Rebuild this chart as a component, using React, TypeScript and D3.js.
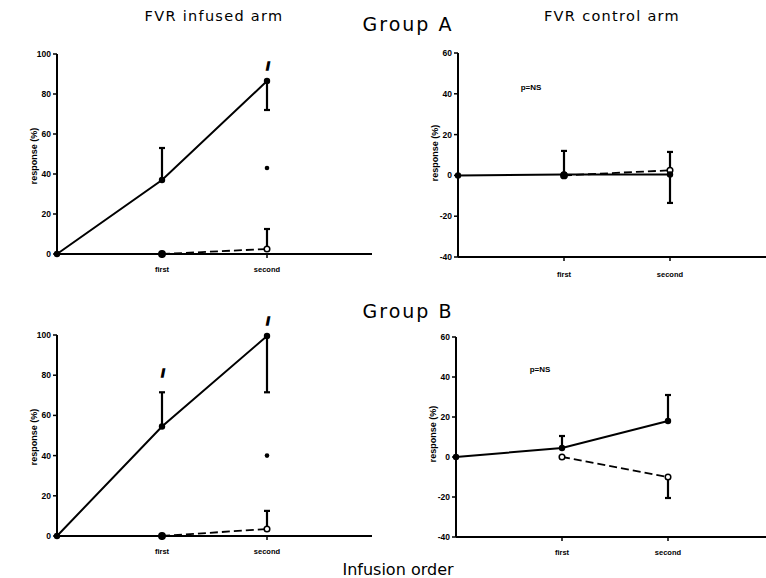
import React from "react";
import * as d3 from "d3";

// ---- data ----
const categories = ["", "first", "second"];

// Group A, infused arm
const aInfSolid = [0, 37, 86.5];
const aInfSolidErr = [null, 53, 72];
const aInfDashed = [null, 0, 2.5];
const aInfDashedErr = [null, null, 12.5];
const aInfDot = [null, null, 43];
const aInfMark = [null, null, 94];

// Group A, control arm
const aCtlSolid = [0, 0.5, 0.5];
const aCtlSolidErr = [null, 12, -13.5];
const aCtlDashed = [null, 0, 2.5];
const aCtlDashedErr = [null, null, 11.5];

// Group B, infused arm
const bInfSolid = [0, 54.5, 99.5];
const bInfSolidErr = [null, 71.5, 71.5];
const bInfDashed = [null, 0, 3.5];
const bInfDashedErr = [null, null, 12.5];
const bInfDot = [null, null, 40];
const bInfMark = [null, 81, 107];

// Group B, control arm
const bCtlSolid = [0, 4.5, 18];
const bCtlSolidErr = [null, 10.5, 31];
const bCtlDashed = [null, 0, -10];
const bCtlDashedErr = [null, null, -20.5];

const infusedTicks = [0, 20, 40, 60, 80, 100];
const controlTicks = [-40, -20, 0, 20, 40, 60];

type Panel = {
  x0: number; x1: number; yTop: number; yBot: number;
  domain: [number, number]; ticks: number[];
  solid: (number | null)[]; solidErr: (number | null)[];
  dashed: (number | null)[]; dashedErr: (number | null)[];
  dot?: (number | null)[]; mark?: (number | null)[];
  dashedFirstFilled: boolean;
  labelY: number; note?: [number, number];
  catLabelOffset: number;
};

const panels: Panel[] = [
  { x0: 57, x1: 372, yTop: 54, yBot: 254, domain: [0, 100], ticks: infusedTicks,
    solid: aInfSolid, solidErr: aInfSolidErr, dashed: aInfDashed, dashedErr: aInfDashedErr,
    dot: aInfDot, mark: aInfMark, dashedFirstFilled: true, labelY: 156, catLabelOffset: 15 },
  { x0: 458, x1: 776, yTop: 53, yBot: 257, domain: [-40, 60], ticks: controlTicks,
    solid: aCtlSolid, solidErr: aCtlSolidErr, dashed: aCtlDashed, dashedErr: aCtlDashedErr,
    dashedFirstFilled: true, labelY: 153, note: [531, 90], catLabelOffset: 17 },
  { x0: 57, x1: 372, yTop: 335, yBot: 536, domain: [0, 100], ticks: infusedTicks,
    solid: bInfSolid, solidErr: bInfSolidErr, dashed: bInfDashed, dashedErr: bInfDashedErr,
    dot: bInfDot, mark: bInfMark, dashedFirstFilled: true, labelY: 437, catLabelOffset: 15 },
  { x0: 456, x1: 774, yTop: 337, yBot: 537, domain: [-40, 60], ticks: controlTicks,
    solid: bCtlSolid, solidErr: bCtlSolidErr, dashed: bCtlDashed, dashedErr: bCtlDashedErr,
    dashedFirstFilled: false, labelY: 434, note: [540, 372], catLabelOffset: 15 },
];

const tickFont = "'Liberation Sans', Arial, sans-serif";

function PanelView({ p }: { p: Panel }) {
  const x = d3.scaleLinear().domain([0, 3]).range([p.x0, p.x1]);
  const y = d3.scaleLinear().domain(p.domain).range([p.yBot, p.yTop]);
  const idx = categories.map((_, i) => i);
  const mkPath = (vals: (number | null)[]) =>
    d3.line<[number, number]>().x((d) => x(d[0])).y((d) => y(d[1]))(
      idx.filter((i) => vals[i] != null).map((i) => [i, vals[i] as number])
    ) || "";
  const errBar = (vals: (number | null)[], errs: (number | null)[], key: string) =>
    idx.filter((i) => errs[i] != null && vals[i] != null).map((i) => (
      <g key={key + i} stroke="#000" strokeWidth={2.2}>
        <line x1={x(i)} x2={x(i)} y1={y(vals[i] as number)} y2={y(errs[i] as number)} />
        <line x1={x(i) - 3} x2={x(i) + 3} y1={y(errs[i] as number)} y2={y(errs[i] as number)} />
      </g>
    ));
  return (
    <g>
      <line x1={p.x0} x2={p.x0} y1={p.yTop} y2={p.yBot} stroke="#000" strokeWidth={2} />
      <line x1={p.x0} x2={p.x1} y1={p.yBot} y2={p.yBot} stroke="#000" strokeWidth={2} />
      {p.ticks.map((t) => (
        <g key={"t" + t}>
          <line x1={p.x0 - 4} x2={p.x0} y1={y(t)} y2={y(t)} stroke="#000" strokeWidth={1.5} />
          <text x={p.x0 - 6} y={y(t)} dy="0.35em" textAnchor="end" fontFamily={tickFont}
            fontWeight="bold" fontSize={8.5}>{t}</text>
        </g>
      ))}
      {idx.slice(1).map((i) => (
        <g key={"c" + i}>
          <line x1={x(i)} x2={x(i)} y1={p.yBot} y2={p.yBot + 4} stroke="#000" strokeWidth={1.5} />
          <text x={x(i)} y={p.yBot + p.catLabelOffset} dy="0.35em" textAnchor="middle"
            fontFamily={tickFont} fontWeight="bold" fontSize={7.5}>{categories[i]}</text>
        </g>
      ))}
      <text transform={`translate(${p.x0 - 23},${p.labelY}) rotate(-90)`} textAnchor="middle"
        fontFamily={tickFont} fontWeight="bold" fontSize={9} dy="0.35em">response (%)</text>
      <path d={mkPath(p.dashed)} fill="none" stroke="#000" strokeWidth={1.8} strokeDasharray="8,4" />
      <path d={mkPath(p.solid)} fill="none" stroke="#000" strokeWidth={2} />
      {errBar(p.solid, p.solidErr, "se")}
      {errBar(p.dashed, p.dashedErr, "de")}
      {idx.filter((i) => p.dashed[i] != null).map((i) => {
        const filled = i === 1 && p.dashedFirstFilled;
        return (
          <circle key={"dc" + i} cx={x(i)} cy={y(p.dashed[i] as number)} r={filled ? 3.2 : 2.8}
            fill={filled ? "#000" : "#fff"} stroke="#000" strokeWidth={1.5} />
        );
      })}
      {idx.map((i) => (
        <circle key={"sc" + i} cx={x(i)} cy={y(p.solid[i] as number)} r={3.2} fill="#000" />
      ))}
      {p.dot && idx.filter((i) => p.dot![i] != null).map((i) => (
        <circle key={"dot" + i} cx={x(i)} cy={y(p.dot![i] as number)} r={2.3} fill="#000" />
      ))}
      {p.mark && idx.filter((i) => p.mark![i] != null).map((i) => (
        <text key={"m" + i} x={x(i) + 1} y={y(p.mark![i] as number)} dy="0.35em" textAnchor="middle"
          fontFamily={tickFont} fontWeight="bold" fontSize={11} stroke="#000" strokeWidth={1.6}>/</text>
      ))}
      {p.note && (
        <text x={p.note[0]} y={p.note[1]} textAnchor="middle" fontFamily={tickFont}
          fontWeight="bold" fontSize={8}>p=NS</text>
      )}
    </g>
  );
}

export default function App() {
  const titleFont = "'DejaVu Sans', sans-serif";
  return (
    <svg width={766} height={578} style={{ position: "absolute", left: 0, top: 0, background: "#fff" }}>
      <rect width={766} height={578} fill="#fff" />
      <text x={214} y={21} textAnchor="middle" fontFamily={titleFont} fontSize={14.5} letterSpacing={1.3}>FVR infused arm</text>
      <text x={612} y={21} textAnchor="middle" fontFamily={titleFont} fontSize={14.5} letterSpacing={1.3}>FVR control arm</text>
      <text x={408} y={31} textAnchor="middle" fontFamily={titleFont} fontSize={19} letterSpacing={2}>Group A</text>
      <text x={408} y={318} textAnchor="middle" fontFamily={titleFont} fontSize={19} letterSpacing={2}>Group B</text>
      <text x={398} y={575} textAnchor="middle" fontFamily={titleFont} fontSize={16} letterSpacing={0}>Infusion order</text>
      {panels.map((p, i) => <PanelView key={i} p={p} />)}
    </svg>
  );
}
